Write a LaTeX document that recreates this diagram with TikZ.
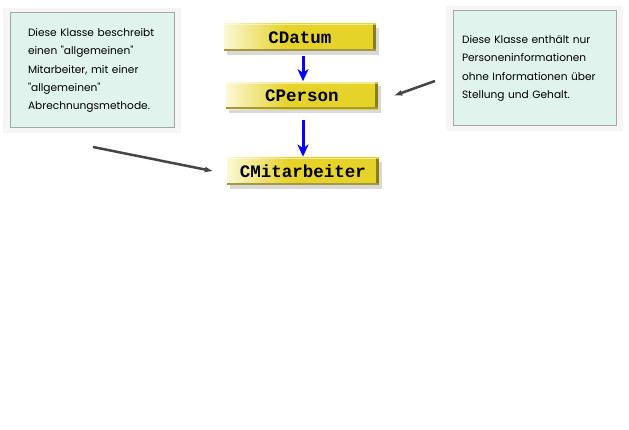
\documentclass[tikz,border=0pt]{standalone}
\usepackage{fontspec}
\setmonofont{Liberation Mono}
\newfontfamily\notefont{Poppins}
\usetikzlibrary{positioning,arrows.meta,shadows}

\definecolor{clsyellow}{HTML}{E6D32A}
\definecolor{clsfade}{HTML}{FBF8D6}
\definecolor{clsdark}{HTML}{8C7E10}
\definecolor{notefill}{HTML}{E0F3EC}
\definecolor{notedraw}{HTML}{A6A6A6}
\definecolor{pointgray}{HTML}{454545}
\pgfdeclarehorizontalshading{clsshade}{100bp}{color(0bp)=(clsfade); color(25bp)=(clsfade); color(45bp)=(clsyellow); color(100bp)=(clsyellow)}

\begin{document}
\begin{tikzpicture}[
    x=1pt, y=-1pt,
    node distance=30pt,
    cls/.style={rectangle, shading=clsshade, minimum width=152pt, minimum height=27pt, inner sep=0pt,
        font=\ttfamily\bfseries\fontsize{17.5}{18}\selectfont,
        drop shadow={shadow xshift=3pt, shadow yshift=-4pt, fill=black, opacity=0.15},
        path picture={
            \fill[clsdark] ([xshift=-3pt]path picture bounding box.north east) rectangle (path picture bounding box.south east);
            \fill[clsdark!80] ([yshift=2pt]path picture bounding box.south west) rectangle (path picture bounding box.south east);
            \fill[white, opacity=0.5] (path picture bounding box.north west) rectangle ([yshift=-1.5pt]path picture bounding box.north east);
        }},
    note/.style={rectangle, draw=notedraw, line width=1pt, fill=notefill, align=left, minimum height=115pt,
        font=\notefont\fontsize{10.6}{18.3}\selectfont,
        drop shadow={shadow xshift=0pt, shadow yshift=0pt, shadow scale=1.08, fill=gray, opacity=0.08}},
    inherit/.style={-{Stealth[length=12pt, width=11pt, inset=3.5pt]}, line width=3pt, blue},
    pointer/.style={-{Latex[length=9pt, width=6pt]}, line width=2.5pt, pointgray}
]
\useasboundingbox (0,0) rectangle (629,430);

% Class hierarchy
\node[cls] (datum) at (300,37.5) {CDatum};
\node[cls, below=31pt of datum, xshift=2pt] (person) {CPerson};
\node[cls, below=48pt of person, xshift=1pt] (mitarbeiter) {CMitarbeiter};

% Comment boxes
\node[note, text width=128pt, inner xsep=18pt] (leftnote) at (92,70.5) {Diese Klasse beschreibt\\einen "allgemeinen"\\Mitarbeiter, mit einer\\"allgemeinen"\\Abrechnungsmethode.};
\node[note, text width=145pt, inner xsep=9pt] (rightnote) at (534.5,68.5) {Diese Klasse enthält nur\\Personeninformationen\\ohne Informationen über\\Stellung und Gehalt.};

% Pointer tails
\coordinate (lefttail) at (93,147);
\coordinate (righttail) at (435,81);

% Inheritance arrows
\draw[inherit, shorten <=5pt, shorten >=1pt] ([xshift=3pt]datum.south) -- ([xshift=1pt]person.north);
\draw[inherit, shorten <=10pt, shorten >=1pt] ([xshift=1pt]person.south) -- ([xshift=0pt]mitarbeiter.north);

% Pointers from the comments
\draw[pointer] (lefttail) -- ([xshift=-13pt]mitarbeiter.west);
\draw[pointer] (righttail) -- ([xshift=15pt]person.east);

\end{tikzpicture}
\end{document}
